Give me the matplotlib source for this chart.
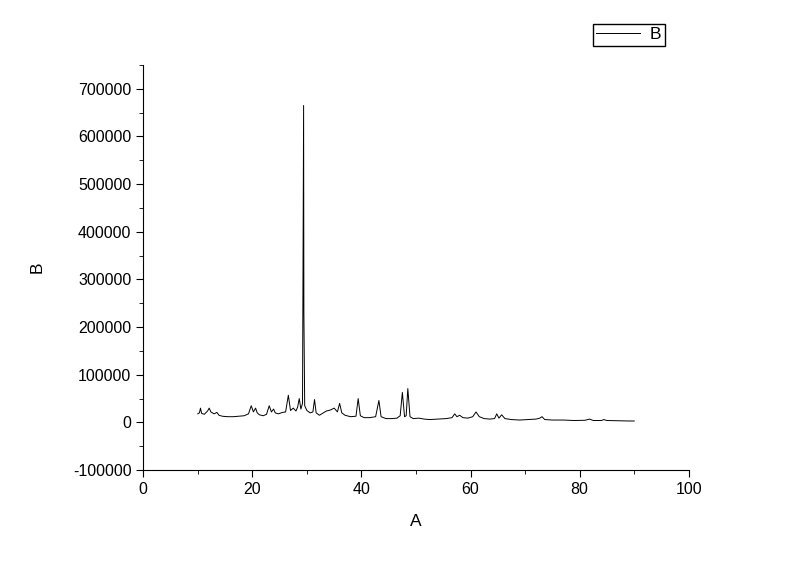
import matplotlib
matplotlib.use('Agg')
import matplotlib.pyplot as plt
from matplotlib.ticker import MultipleLocator

plt.rcParams['font.family'] = ['Liberation Sans', 'DejaVu Sans']
plt.rcParams['axes.unicode_minus'] = False

# XRD pattern (2theta, counts)
two_theta = [10.0, 10.3, 10.5, 10.7, 11.2, 11.8, 12.1, 12.4, 13.0, 13.5, 13.9,
             14.5, 15.5, 16.5, 17.5, 18.5, 19.3, 19.8, 20.2, 20.6, 20.9, 21.3,
             22.0, 22.6, 23.1, 23.5, 23.9, 24.2, 24.8, 25.5, 26.1, 26.6, 27.0,
             27.5, 28.0, 28.3, 28.6, 28.9, 29.2, 29.4, 29.45, 29.6, 30.0,
             30.6, 31.1, 31.4, 31.7, 32.3, 33.0, 33.6, 34.3, 35.0, 35.6, 36.0,
             36.4, 37.0, 38.0, 39.0, 39.4, 39.8, 40.5, 41.5, 42.6, 43.2, 43.6,
             44.5, 45.5, 46.5, 47.1, 47.5, 47.9, 48.2, 48.5, 48.9, 49.5, 50.5,
             51.5, 52.5, 54.0, 55.5, 56.6, 57.1, 57.5, 58.0, 58.6, 59.5, 60.4,
             61.0, 61.6, 62.5, 63.5, 64.4, 64.8, 65.2, 65.7, 66.3, 67.5, 69.0,
             70.5, 72.0, 72.7, 73.1, 73.6, 75.0, 77.0, 79.0, 81.0, 81.8, 82.5,
             84.0, 84.4, 85.0, 87.0, 89.0, 90.0]
counts = [18000, 20000, 30000, 19000, 17000, 24000, 30000, 22000, 18000, 21000, 15000,
          13000, 12000, 12000, 13000, 14000, 18000, 35000, 22000, 30000, 20000, 16000,
          14000, 17000, 35000, 22000, 28000, 20000, 18000, 21000, 22000, 57000, 25000,
          30000, 24000, 32000, 50000, 28000, 40000, 665000, 230000, 35000, 25000,
          20000, 22000, 48000, 20000, 15000, 20000, 24000, 26000, 30000, 22000, 40000,
          20000, 15000, 12000, 13000, 50000, 14000, 10000, 10000, 12000, 46000, 12000,
          8000, 8000, 9000, 14000, 63000, 12000, 14000, 71000, 12000, 8000, 9000,
          7000, 6000, 7000, 8000, 10000, 18000, 12000, 15000, 10000, 9000, 12000,
          22000, 12000, 8000, 7000, 8000, 18000, 9000, 16000, 8000, 6000, 5000,
          6000, 7000, 9000, 12000, 6000, 5000, 5000, 4000, 4500, 7000, 4000,
          4000, 6000, 4000, 3500, 3000, 3000]

fig = plt.figure(figsize=(8, 5.65), dpi=100)
ax = fig.add_axes([0.179, 0.168, 0.682, 0.717])

line, = ax.plot(two_theta, counts, color='black', linewidth=0.7, label='B')

ax.set_xlim(0, 100)
ax.set_ylim(-100000, 750000)
ax.xaxis.set_major_locator(MultipleLocator(20))
ax.xaxis.set_minor_locator(MultipleLocator(10))
ax.yaxis.set_major_locator(MultipleLocator(100000))
ax.yaxis.set_minor_locator(MultipleLocator(50000))

for side in ('top', 'right'):
    ax.spines[side].set_visible(False)
ax.tick_params(which='both', direction='out', labelsize=11.5)
ax.tick_params(which='major', length=5)
ax.tick_params(which='minor', length=3)

ax.set_xlabel('A', fontsize=12.5, labelpad=12)
ax.set_ylabel('B', fontsize=12.5, labelpad=20)

fig.legend(handles=[line], loc='upper left', bbox_to_anchor=(0.741, 0.958),
           borderaxespad=0, fancybox=False, edgecolor='black', framealpha=1,
           fontsize=12.5, handlelength=2.5, borderpad=0.2, handletextpad=0.6)

fig.savefig('out.png', dpi=100)
